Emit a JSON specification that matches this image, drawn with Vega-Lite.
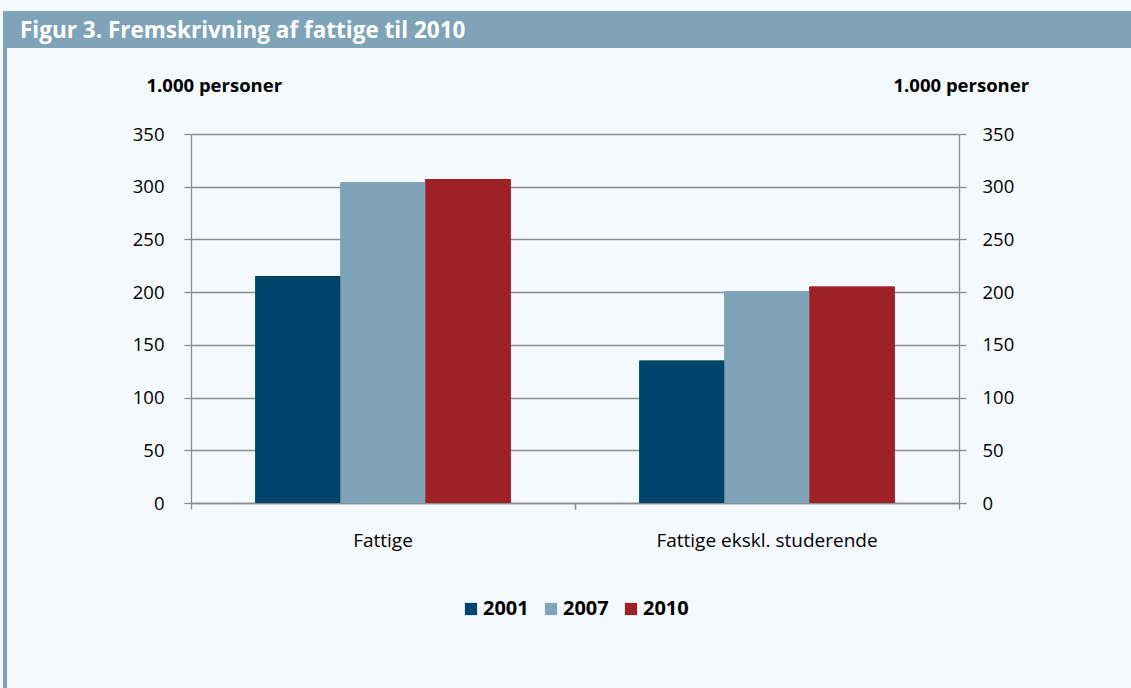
{
  "$schema": "https://vega.github.io/schema/vega-lite/v6.json",
  "padding": {"left": 3, "top": 11, "right": 0, "bottom": 0},
  "background": "#f4f9fd",
  "columns": 2,
  "spacing": 0,
  "align": "none",
  "resolve": {"scale": {"color": "independent"}, "legend": {"color": "independent"}},
  "concat": [
    {
      "width": 4,
      "height": 37,
      "data": {"values": [{"t": ""}]},
      "mark": {"type": "text"},
      "encoding": {"text": {"field": "t"}},
      "view": {"fill": "#7fa3b8", "stroke": null}
    },
    {
      "width": 1124,
      "height": 37,
      "data": {"values": [{"t": "Figur 3. Fremskrivning af fattige til 2010"}]},
      "mark": {
        "type": "text", "align": "left", "baseline": "middle", "dx": 13, "dy": 1,
        "font": "Open Sans", "fontSize": 22.5, "fontWeight": "bold", "color": "#ffffff"
      },
      "encoding": {
        "text": {"field": "t"},
        "x": {"field": "t", "type": "nominal", "axis": null, "scale": {"type": "point", "padding": 0, "align": 0}}
      },
      "view": {"fill": "#7fa3b8", "stroke": null}
    },
    {
      "width": 4,
      "height": 640,
      "data": {"values": [{"t": ""}]},
      "mark": {"type": "text"},
      "encoding": {"text": {"field": "t"}},
      "view": {"fill": "#7fa3b8", "stroke": null}
    },
    {
      "width": 768,
      "height": 369,
      "view": {"stroke": null},
      "data": {
        "values": [
          {"category": "Fattige", "year": "2001", "value": 215},
          {"category": "Fattige", "year": "2007", "value": 304},
          {"category": "Fattige", "year": "2010", "value": 307},
          {"category": "Fattige ekskl. studerende", "year": "2001", "value": 135},
          {"category": "Fattige ekskl. studerende", "year": "2007", "value": 201},
          {"category": "Fattige ekskl. studerende", "year": "2010", "value": 205}
        ]
      },
      "layer": [
        {
          "mark": {"type": "bar"},
          "encoding": {
            "x": {
              "field": "category", "type": "nominal",
              "sort": ["Fattige", "Fattige ekskl. studerende"],
              "scale": {"paddingInner": 0, "paddingOuter": 0},
              "axis": {
                "orient": "bottom", "title": null, "ticks": false, "grid": false,
                "labelAngle": 0, "labelFont": "Open Sans", "labelFontSize": 19, "labelColor": "#000000",
                "labelPadding": 28, "labelLimit": 600, "domain": true, "domainColor": "#8c8c8c", "domainWidth": 1.3
              }
            },
            "xOffset": {"field": "year", "type": "nominal", "scale": {"paddingInner": 0, "paddingOuter": 0.759}},
            "y": {
              "field": "value", "type": "quantitative",
              "scale": {"domain": [0, 350]},
              "axis": {
                "orient": "left", "values": [0, 50, 100, 150, 200, 250, 300, 350],
                "grid": true, "gridColor": "#8c8c8c", "gridWidth": 1.3,
                "domain": true, "domainColor": "#8c8c8c", "domainWidth": 1.3,
                "ticks": true, "tickSize": 7, "tickColor": "#8c8c8c", "tickWidth": 1.3,
                "labelFont": "Open Sans", "labelFontSize": 18.5, "labelColor": "#000000", "labelPadding": 20,
                "title": "1.000 personer", "titleFont": "Open Sans", "titleFontSize": 18.5, "titleFontWeight": "bold",
                "titleColor": "#000000", "titleAngle": 0, "titleAlign": "left", "titleBaseline": "alphabetic",
                "titleX": -45, "titleY": -43, "minExtent": 184
              }
            },
            "color": {
              "field": "year", "type": "nominal",
              "scale": {"domain": ["2001", "2007", "2010"], "range": ["#00456b", "#7fa3b8", "#9e2127"]},
              "legend": {
                "title": null, "orient": "bottom", "direction": "horizontal",
                "symbolType": "square", "symbolSize": 150, "symbolStrokeWidth": 0,
                "labelFont": "Open Sans", "labelFontSize": 20, "labelFontWeight": "bold", "labelColor": "#000000",
                "columnPadding": 12, "labelOffset": 2, "offset": 49
              }
            }
          }
        },
        {
          "mark": {"type": "bar"},
          "encoding": {
            "x": {
              "field": "category", "type": "nominal",
              "sort": ["Fattige", "Fattige ekskl. studerende"],
              "axis": {
                "orient": "bottom", "title": null, "bandPosition": 0, "labels": false, "domain": false, "grid": false,
                "ticks": true, "tickSize": 6, "tickColor": "#8c8c8c", "tickWidth": 1.3
              }
            },
            "xOffset": {"field": "year", "type": "nominal"},
            "y": {
              "field": "value", "type": "quantitative",
              "axis": {
                "orient": "right", "values": [0, 50, 100, 150, 200, 250, 300, 350],
                "grid": false,
                "domain": true, "domainColor": "#8c8c8c", "domainWidth": 1.3,
                "ticks": true, "tickSize": 7, "tickColor": "#8c8c8c", "tickWidth": 1.3,
                "labelFont": "Open Sans", "labelFontSize": 18.5, "labelColor": "#000000", "labelPadding": 16,
                "title": "1.000 personer", "titleFont": "Open Sans", "titleFontSize": 18.5, "titleFontWeight": "bold",
                "titleColor": "#000000", "titleAngle": 0, "titleAlign": "left", "titleBaseline": "alphabetic",
                "titleX": -66, "titleY": -43
              }
            },
            "color": {"field": "year", "type": "nominal"}
          }
        },
        {
          "mark": {"type": "bar"},
          "encoding": {
            "x": {
              "field": "category", "type": "nominal",
              "sort": ["Fattige", "Fattige ekskl. studerende"],
              "axis": {
                "orient": "bottom", "title": null, "bandPosition": 1, "labels": false, "domain": false, "grid": false,
                "ticks": true, "tickSize": 6, "tickColor": "#8c8c8c", "tickWidth": 1.3
              }
            },
            "xOffset": {"field": "year", "type": "nominal"},
            "y": {"field": "value", "type": "quantitative", "axis": null},
            "color": {"field": "year", "type": "nominal"}
          }
        },
        {
          "mark": {"type": "bar"},
          "encoding": {
            "x": {
              "field": "category", "type": "nominal",
              "sort": ["Fattige", "Fattige ekskl. studerende"],
              "axis": {
                "orient": "top", "title": null, "labels": false, "ticks": false, "grid": false,
                "domain": true, "domainOpacity": 0, "minExtent": 86
              }
            },
            "xOffset": {"field": "year", "type": "nominal"},
            "y": {"field": "value", "type": "quantitative", "axis": null},
            "color": {"field": "year", "type": "nominal"}
          }
        }
      ],
      "resolve": {"axis": {"x": "independent", "y": "independent"}}
    }
  ],
  "config": {
    "view": {"stroke": null},
    "legend": {"layout": {"bottom": {"anchor": "middle"}}}
  }
}
